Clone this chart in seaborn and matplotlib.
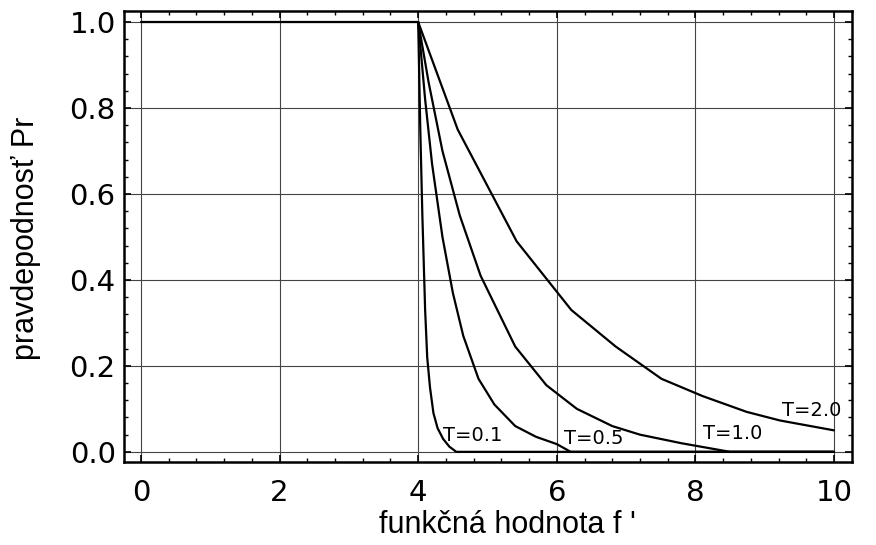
import matplotlib
matplotlib.use("Agg")
import matplotlib.pyplot as plt
import seaborn as sns
from matplotlib.ticker import MultipleLocator

# flat part, Pr = 1 up to f' = 4
flat_x = [0.0, 4.0]
flat_y = [1.0, 1.0]

# curves, one per temperature
t01_x = [4.0, 4.03, 4.06, 4.10, 4.13, 4.17, 4.22, 4.28, 4.36, 4.45, 4.55, 10.0]
t01_y = [1.0, 0.75, 0.55, 0.33, 0.22, 0.15, 0.09, 0.055, 0.03, 0.012, 0.0, 0.0]

t05_x = [4.0, 4.1, 4.2, 4.35, 4.5, 4.65, 4.87, 5.1, 5.4, 5.7, 6.0, 6.2, 10.0]
t05_y = [1.0, 0.82, 0.67, 0.50, 0.37, 0.27, 0.17, 0.11, 0.06, 0.035, 0.018, 0.0, 0.0]

t10_x = [4.0, 4.15, 4.35, 4.6, 4.9, 5.4, 5.85, 6.29, 6.8, 7.2, 7.8, 8.5, 10.0]
t10_y = [1.0, 0.86, 0.70, 0.55, 0.41, 0.245, 0.155, 0.10, 0.06, 0.04, 0.02, 0.0, 0.0]

t20_x = [4.0, 4.57, 5.42, 6.21, 6.85, 7.51, 8.1, 8.74, 9.22, 10.0]
t20_y = [1.0, 0.75, 0.49, 0.33, 0.245, 0.17, 0.13, 0.093, 0.073, 0.05]

curve_labels = ["T=0.1", "T=0.5", "T=1.0", "T=2.0"]
label_x = [4.78, 6.54, 8.54, 9.68]
label_y = [0.038, 0.03, 0.043, 0.097]

sns.set_theme(style="ticks")
plt.rcParams['font.family'] = ['DejaVu Sans']

fig = plt.figure(figsize=(8.76, 5.45), dpi=100)
ax = fig.add_axes([0.1416, 0.152, 0.831, 0.828])

for xs, ys in [(flat_x, flat_y), (t01_x, t01_y), (t05_x, t05_y), (t10_x, t10_y), (t20_x, t20_y)]:
    sns.lineplot(x=xs, y=ys, ax=ax, color="black", linewidth=1.6, sort=False, estimator=None)

for txt, lx, ly in zip(curve_labels, label_x, label_y):
    ax.text(lx, ly, txt, ha="center", va="center", fontsize=14, color="black")

ax.set_xlim(-0.245, 10.26)
ax.set_ylim(-0.024, 1.026)
ax.xaxis.set_major_locator(MultipleLocator(2))
ax.xaxis.set_minor_locator(MultipleLocator(0.4))
ax.yaxis.set_major_locator(MultipleLocator(0.2))
ax.yaxis.set_minor_locator(MultipleLocator(0.04))
ax.yaxis.set_major_formatter(matplotlib.ticker.FormatStrFormatter('%.1f'))

ax.grid(True, which="major", color="#444444", linewidth=0.8)
ax.tick_params(which="both", direction="in", top=True, right=True, colors="black")
ax.tick_params(which="major", length=5, width=1.2, labelsize=21)
ax.tick_params(axis="x", which="major", pad=12)
ax.tick_params(axis="y", which="major", pad=6)
ax.tick_params(which="minor", length=3, width=1.0)
for s in ax.spines.values():
    s.set_linewidth(1.8)
    s.set_color("black")

ax.set_xlabel("funkčná hodnota f '", fontsize=22, family="Liberation Sans", color="black")
ax.set_ylabel("pravdepodnosť Pr", fontsize=22, family="Liberation Sans", color="black")
ax.xaxis.set_label_coords(0.526, -0.106)
ax.yaxis.set_label_coords(-0.114, 0.497)

fig.savefig("out.png", dpi=100)
